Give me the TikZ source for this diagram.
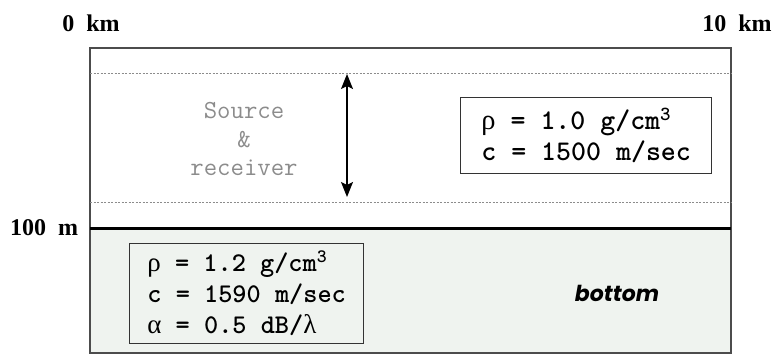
\documentclass[tikz,border=0pt]{standalone}
\usepackage{fontspec}
\setmainfont{Liberation Serif}
\newfontfamily\gothfont{Poppins}
\newcommand{\grk}[1]{{\rmfamily\mdseries #1}}
\usetikzlibrary{arrows.meta}

\begin{document}
\begin{tikzpicture}[
  x=1pt, y=-1pt,
  every node/.style={inner sep=0pt},
  frame/.style={draw=black!70, line width=1.5pt},
  interface/.style={draw=black, line width=3pt},
  limit/.style={draw=black!45, line width=0.8pt, dash pattern=on 2pt off 1.5pt},
  scale label/.style={font=\bfseries\fontsize{24}{27}\selectfont},
  parambox/.style={draw=black!80, line width=1.3pt, align=left, anchor=north west},
  depth arrow/.style={line width=1.4pt, {Stealth[length=15pt,width=12pt,inset=3pt]}-{Stealth[length=15pt,width=12pt,inset=3pt]}}]
\useasboundingbox (0,0) rectangle (778,356);
% bottom half-space and the water layer
\fill[fill={rgb,255:red,239;green,243;blue,239}] (90,228) rectangle (731,353);
\draw[frame] (90,48) rectangle (731,353);
\draw[limit] (90,73) -- (731,73);
\draw[limit] (90,202) -- (731,202);
\draw[interface] (90,228) -- (731,228);
% range and depth marks
\node[scale label] (left) at (91,23) {0\hspace{0.5em}km};
\node[scale label] (right) at (737,23) {10\hspace{0.5em}km};
\node[scale label] (depth) at (44,228) {100\hspace{0.5em}m};
% source and receiver span
\coordinate (top) at (347,74);
\coordinate (low) at (347,197);
\draw[depth arrow] (top) -- (low);
\node[font=\ttfamily\fontsize{26}{28.5}\selectfont, text=black!45, align=center] (src) at (244,139) {Source\\\&\\receiver};
\node[parambox, minimum width=251, minimum height=76, font=\ttfamily\bfseries\fontsize{28.5}{31}\selectfont] (water) at (460,97)
  {\grk{ρ} = 1.0 g/cm\textsuperscript{3}\\c = 1500 m/sec};
\node[parambox, minimum width=234, minimum height=100, font=\ttfamily\bfseries\fontsize{27}{31}\selectfont] (sediment) at (129,243)
  {\grk{ρ} = 1.2 g/cm\textsuperscript{3}\\c = 1590 m/sec\\\grk{α} = 0.5 dB/\grk{λ}};
\node[font=\gothfont\bfseries\itshape\fontsize{22}{26}\selectfont] (bottom) at (617,293) {bottom};
\end{tikzpicture}
\end{document}
